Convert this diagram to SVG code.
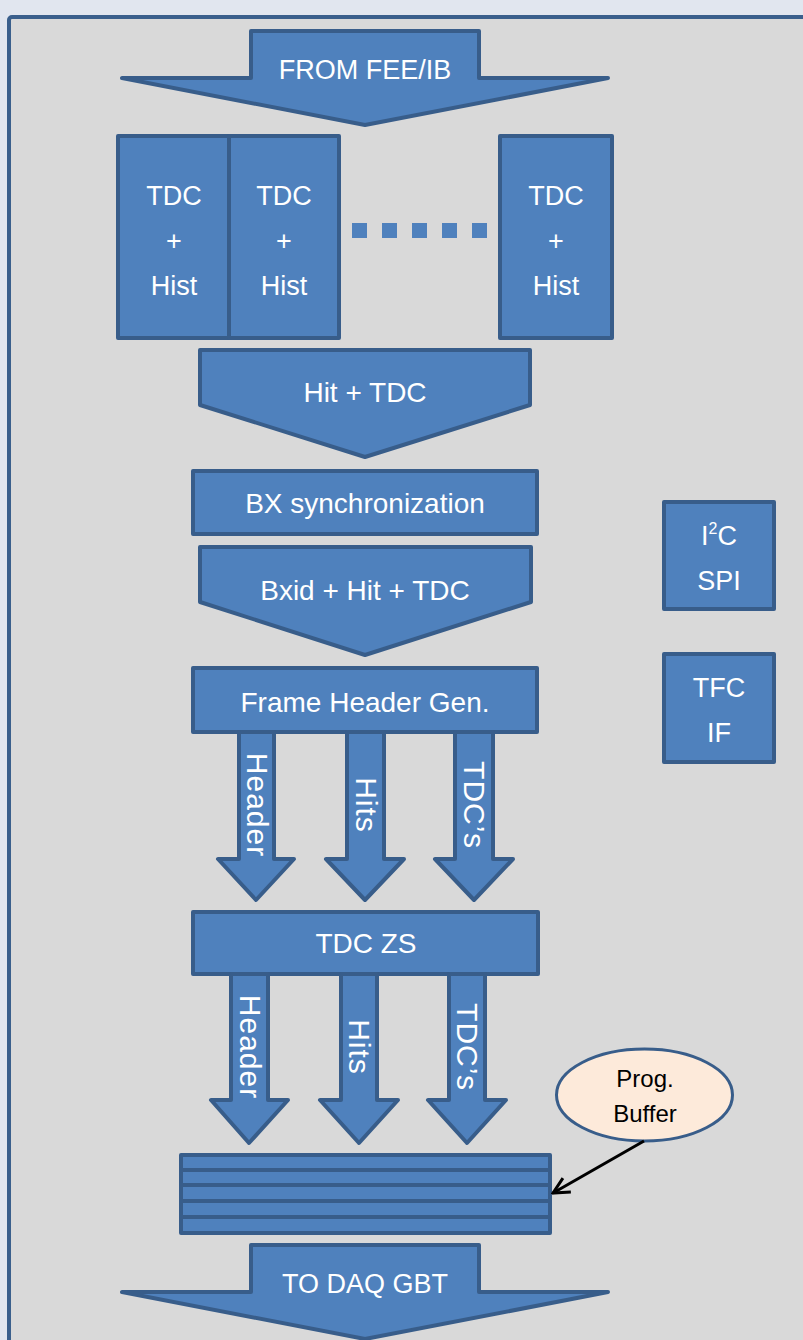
<svg xmlns="http://www.w3.org/2000/svg" width="803" height="1340" viewBox="0 0 803 1340">
  <style>
    .blk { fill: #4f81bd; stroke: #385d8a; stroke-width: 4; stroke-linejoin: round; }
    .lbl { font-family: "Liberation Sans", Arial, sans-serif; fill: #ffffff; text-anchor: middle; }
    .big { font-size: 28px; }
    .mid { font-size: 27px; }
    .rot { font-size: 30px; letter-spacing: 1px; }
    .note { font-family: "Liberation Sans", Arial, sans-serif; font-size: 24px; fill: #000000; text-anchor: middle; }
  </style>
  <defs>
    <marker id="open-head" viewBox="0 0 20 20" refX="18" refY="10" markerWidth="20" markerHeight="20" markerUnits="userSpaceOnUse" orient="auto">
      <polyline points="2,2 18,10 2,18" fill="none" stroke="#000000" stroke-width="3"/>
    </marker>
  </defs>

  <!-- page and panel -->
  <rect x="0" y="0" width="803" height="1340" fill="#e1e6ef"/>
  <rect x="9" y="17" width="830" height="1360" rx="3" fill="#d9d9d9" stroke="#3a5f8c" stroke-width="4"/>

  <!-- input arrow -->
  <g id="from-fee">
    <polygon class="blk" points="251,31 479,31 479,78 608,78 365,125 122,78 251,78"/>
    <text class="lbl" x="365" y="79" font-size="27">FROM FEE/IB</text>
  </g>

  <!-- TDC + histogram channels -->
  <g id="tdc-1">
    <rect class="blk" x="118" y="136" width="111" height="202"/>
    <text class="lbl mid" x="174" y="205">TDC</text>
    <text class="lbl mid" x="174" y="250">+</text>
    <text class="lbl mid" x="174" y="295">Hist</text>
  </g>
  <g id="tdc-2">
    <rect class="blk" x="229" y="136" width="110" height="202"/>
    <text class="lbl mid" x="284" y="205">TDC</text>
    <text class="lbl mid" x="284" y="250">+</text>
    <text class="lbl mid" x="284" y="295">Hist</text>
  </g>
  <g id="ellipsis" fill="#4f81bd">
    <rect x="352" y="223" width="15" height="15"/>
    <rect x="382" y="223" width="15" height="15"/>
    <rect x="412" y="223" width="15" height="15"/>
    <rect x="442" y="223" width="15" height="15"/>
    <rect x="472" y="223" width="15" height="15"/>
  </g>
  <g id="tdc-n">
    <rect class="blk" x="500" y="136" width="112" height="202"/>
    <text class="lbl mid" x="556" y="205">TDC</text>
    <text class="lbl mid" x="556" y="250">+</text>
    <text class="lbl mid" x="556" y="295">Hist</text>
  </g>

  <!-- hit + TDC stream -->
  <g id="hit-tdc">
    <polygon class="blk" points="200,350 530,350 530,405 365,457 200,405"/>
    <text class="lbl big" x="365" y="402">Hit + TDC</text>
  </g>

  <g id="bx-sync">
    <rect class="blk" x="193" y="471" width="344" height="63"/>
    <text class="lbl big" x="365" y="513">BX synchronization</text>
  </g>

  <g id="bxid-hit-tdc">
    <polygon class="blk" points="200,547 531,547 531,602 365,655 200,602"/>
    <text class="lbl big" x="365" y="600">Bxid + Hit + TDC</text>
  </g>

  <g id="frame-header">
    <rect class="blk" x="193" y="668" width="344" height="64"/>
    <text class="lbl big" x="365" y="712">Frame Header Gen.</text>
  </g>

  <!-- side interfaces -->
  <g id="i2c-spi">
    <rect class="blk" x="664" y="502" width="110" height="107"/>
    <text class="lbl mid" x="719" y="545">I<tspan font-size="16" dy="-11">2</tspan><tspan dy="11">C</tspan></text>
    <text class="lbl mid" x="719" y="590">SPI</text>
  </g>
  <g id="tfc-if">
    <rect class="blk" x="664" y="654" width="110" height="108"/>
    <text class="lbl mid" x="719" y="697">TFC</text>
    <text class="lbl mid" x="719" y="742">IF</text>
  </g>

  <!-- header / hits / TDC streams after frame header generation -->
  <g id="fh-header">
    <polygon class="blk" points="239,732 274,732 274,859 294,859 256,900 218,859 239,859"/>
    <text class="lbl rot" transform="translate(257,805) rotate(90)" y="10">Header</text>
  </g>
  <g id="fh-hits">
    <polygon class="blk" points="347,732 384,732 384,859 404,859 365,900 326,859 347,859"/>
    <text class="lbl rot" transform="translate(366,805) rotate(90)" y="10">Hits</text>
  </g>
  <g id="fh-tdcs">
    <polygon class="blk" points="455,732 493,732 493,859 513,859 474,900 435,859 455,859"/>
    <text class="lbl rot" transform="translate(474,805) rotate(90)" y="10">TDC’s</text>
  </g>

  <g id="tdc-zs">
    <rect class="blk" x="193" y="912" width="345" height="62"/>
    <text class="lbl big" x="366" y="953">TDC ZS</text>
  </g>

  <!-- streams after zero suppression -->
  <g id="zs-header">
    <polygon class="blk" points="231,974 268,974 268,1100 288,1100 249,1143 211,1100 231,1100"/>
    <text class="lbl rot" transform="translate(250,1047) rotate(90)" y="10">Header</text>
  </g>
  <g id="zs-hits">
    <polygon class="blk" points="341,974 377,974 377,1100 398,1100 359,1143 320,1100 341,1100"/>
    <text class="lbl rot" transform="translate(359,1047) rotate(90)" y="10">Hits</text>
  </g>
  <g id="zs-tdcs">
    <polygon class="blk" points="449,974 485,974 485,1100 506,1100 467,1143 428,1100 449,1100"/>
    <text class="lbl rot" transform="translate(467,1047) rotate(90)" y="10">TDC’s</text>
  </g>

  <!-- output buffer -->
  <g id="buffer">
    <rect class="blk" x="181" y="1155" width="369" height="78"/>
    <g stroke="#385d8a" stroke-width="4">
      <line x1="183" y1="1170" x2="548" y2="1170"/>
      <line x1="183" y1="1185" x2="548" y2="1185"/>
      <line x1="183" y1="1201" x2="548" y2="1201"/>
      <line x1="183" y1="1217" x2="548" y2="1217"/>
    </g>
  </g>

  <g id="prog-buffer">
    <ellipse cx="644.5" cy="1095" rx="88" ry="46" fill="#fdeada" stroke="#385d8a" stroke-width="3"/>
    <text class="note" x="645" y="1087">Prog.</text>
    <text class="note" x="645" y="1122">Buffer</text>
  </g>

  <!-- output arrow -->
  <g id="to-daq">
    <polygon class="blk" points="251,1245 479,1245 479,1292 608,1292 365,1339 122,1292 251,1292"/>
    <text class="lbl" x="365" y="1293" font-size="27">TO DAQ GBT</text>
  </g>

  <!-- connectors -->
  <g id="connectors">
    <line x1="644" y1="1141" x2="553" y2="1193" stroke="#000000" stroke-width="3" marker-end="url(#open-head)"/>
  </g>
</svg>
